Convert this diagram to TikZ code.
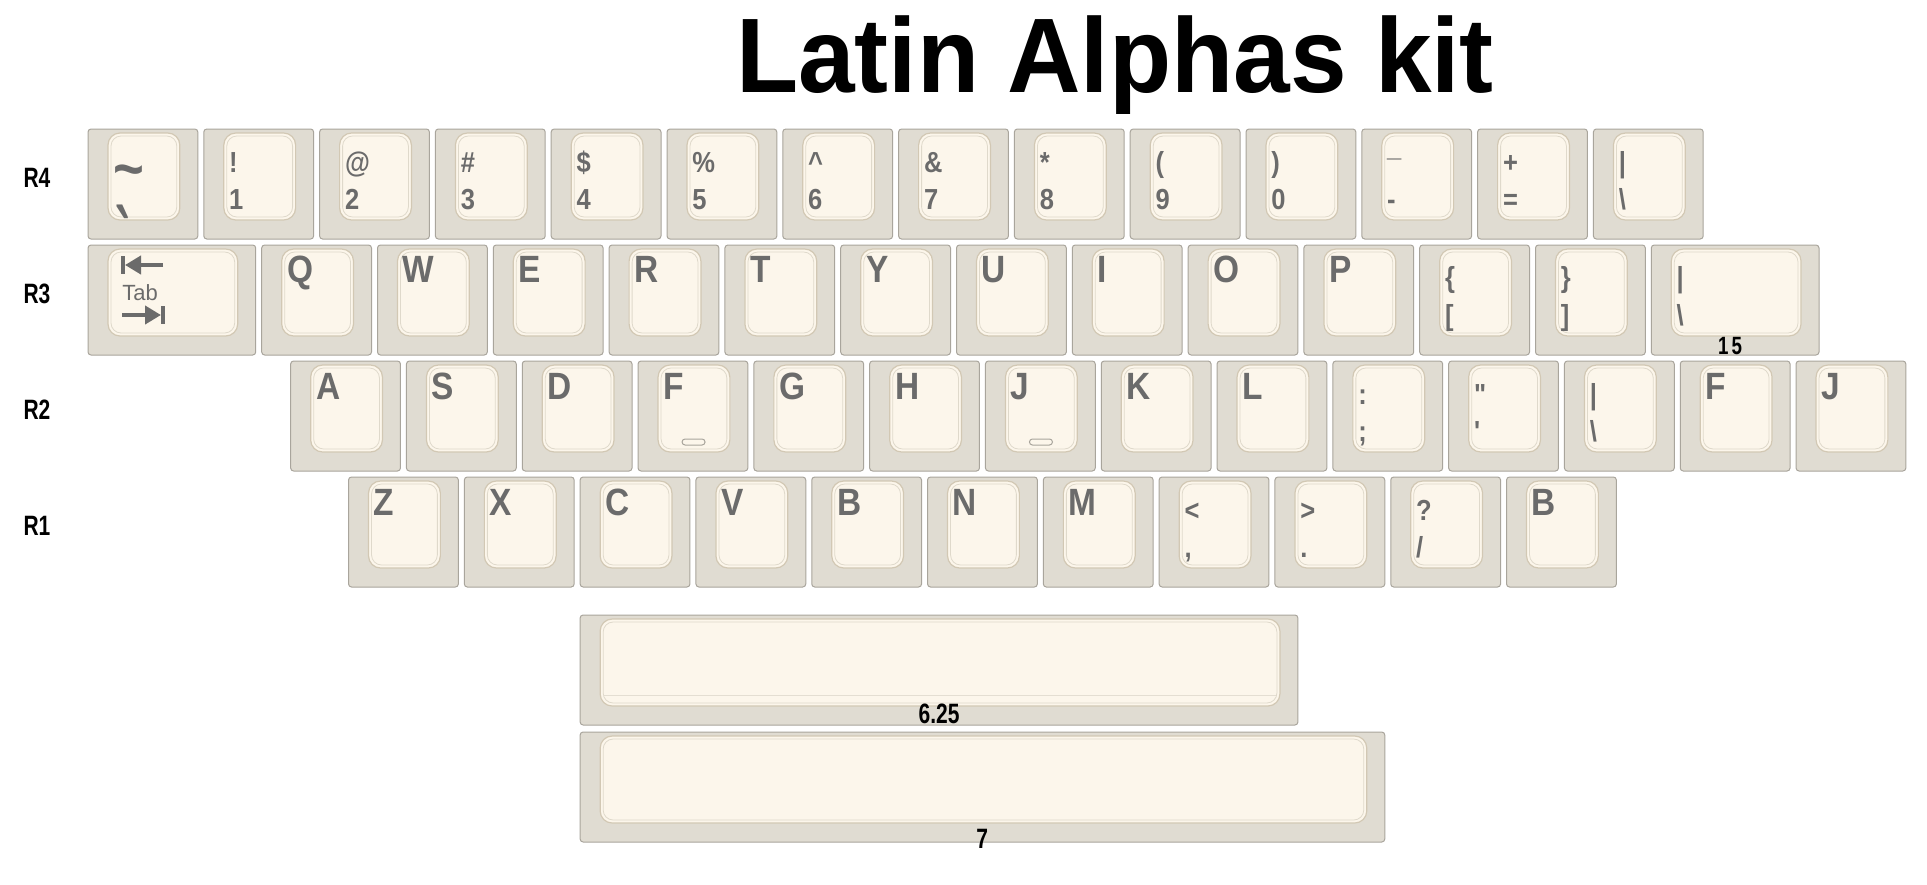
\documentclass[tikz,border=0pt]{standalone}
\usepackage{fontspec}
\setmainfont{Liberation Sans}
\newfontfamily\legendfont[FakeStretch=0.88]{Liberation Sans Bold}
\newfontfamily\narrowfont[FakeStretch=0.75]{Liberation Sans Bold}
\newfontfamily\titlefont[FakeStretch=0.96]{Liberation Sans Bold}
\usetikzlibrary{arrows.meta}

\definecolor{capbody}{HTML}{E0DCD2}
\definecolor{capedge}{HTML}{A9A59C}
\definecolor{captop}{HTML}{FCF6EB}
\definecolor{caprim}{HTML}{D2C8B4}
\definecolor{legendgray}{HTML}{6B6B6B}

\tikzset{
  keybody/.style={fill=capbody,draw=capedge,line width=0.5pt,rounded corners=1.5pt},
  keytop/.style={fill=captop,draw=caprim,line width=0.6pt,rounded corners=6pt},
  keyrim/.style={draw=caprim!70,line width=0.4pt,rounded corners=5pt},
  letter/.style={anchor=base west,inner sep=0pt,text=legendgray,font=\legendfont\fontsize{19}{19}\selectfont},
  sym/.style={anchor=base west,inner sep=0pt,text=legendgray,font=\legendfont\fontsize{14.5}{14.5}\selectfont},
  rowlabel/.style={inner sep=0pt,font=\narrowfont\fontsize{14}{14}\selectfont},
  sizelabel/.style={inner sep=0pt,font=\narrowfont\fontsize{14}{14}\selectfont},
  tabarrow/.style={draw=legendgray,line width=2pt},
  homing/.style={fill=captop,draw=capedge,line width=0.5pt,rounded corners=1.5pt}
}

% one keycap: left, top, width in units
\newcommand\keycap[3]{%
  \pgfmathsetmacro{\kr}{#1+#3*\pitch-\gap}
  \draw[keybody] (#1,#2) rectangle (\kr,#2+110);
  \draw[keytop] (#1+20,#2+4) rectangle (\kr-18,#2+91);
  \draw[keyrim] (#1+23,#2+7) rectangle (\kr-21,#2+88);
}

\begin{document}
\begin{tikzpicture}[x=0.5pt,y=-0.5pt]
    % Layout parameters (px)
    \def\pitch{115.8} % one key unit
    \def\gap{6} % space between two caps
    \def\xo{88} % left edge of the board

    \fill[white] (0,0) rectangle (1927,884);
    \useasboundingbox (0,0) rectangle (1927,884);

    % Title
    \node[anchor=base,inner sep=0pt] (title) at (1115,92) {\titlefont\fontsize{53}{53}\selectfont Latin Alphas kit};

    % Row labels
    \foreach \n/\y in {4/129,3/245,2/361,1/477}
      \node[rowlabel] (row\n) at (37,\y+49) {R\n};

    % R4: number row
    \keycap{\xo}{129}{1}
    \node[sym,font=\legendfont\fontsize{30}{30}\selectfont] (top-0) at (\xo+25,129+60) {\textasciitilde};
    \node[sym,font=\legendfont\fontsize{20}{20}\selectfont] (bot-0) at (\xo+27,129+140) {\scalebox{1.3}[2.2]{\textasciigrave}};
    \foreach \t/\b [count=\i from 1] in {!/1,@/2,\#/3,\$/4,\%/5,\textasciicircum/6,\&/7,*/8,{(}/9,{)}/0,{\raisebox{0.55em}{\_}}/-,+/=,|/\textbackslash}{
      \pgfmathsetmacro{\kx}{\xo+\i*\pitch}
      \keycap{\kx}{129}{1}
      \node[sym] (top-\i) at (\kx+25,129+43) {\t};
      \node[sym] (bot-\i) at (\kx+25,129+80) {\b};
    }

    % R3: tab row
    \keycap{\xo}{245}{1.5}
    \coordinate (tabL) at (\xo+35,265);
    \coordinate (tabR) at (\xo+75,265);
    \draw[tabarrow,-{Triangle[length=8pt,width=9pt]}] (tabR) -- ([xshift=1pt]tabL);
    \draw[tabarrow] ([yshift=4.5pt]tabL) -- ([yshift=-4.5pt]tabL);
    \node[anchor=base west,inner sep=0pt,text=legendgray,font=\fontsize{11}{11}\selectfont] (tab) at (\xo+34,300) {Tab};
    \coordinate (tabL2) at (\xo+34,315);
    \coordinate (tabR2) at (\xo+75,315);
    \draw[tabarrow,-{Triangle[length=8pt,width=9pt]}] (tabL2) -- ([xshift=-1pt]tabR2);
    \draw[tabarrow] ([yshift=4.5pt]tabR2) -- ([yshift=-4.5pt]tabR2);
    \foreach \k [count=\i from 0] in {Q,W,E,R,T,Y,U,I,O,P}{
      \pgfmathsetmacro{\kx}{\xo+(1.5+\i)*\pitch}
      \keycap{\kx}{245}{1}
      \node[letter] (r3-\i) at (\kx+25,245+37) {\k};
    }
    \foreach \t/\b/\i in {\{/[/10,\}/]/11}{
      \pgfmathsetmacro{\kx}{\xo+(1.5+\i)*\pitch}
      \keycap{\kx}{245}{1}
      \node[sym] (r3t-\i) at (\kx+25,245+42) {\t};
      \node[sym] (r3b-\i) at (\kx+25,245+80) {\b};
    }
    \pgfmathsetmacro{\kx}{\xo+13.5*\pitch}
    \keycap{\kx}{245}{1.5}
    \node[sym] (r3t-12) at (\kx+25,245+42) {|};
    \node[sym] (r3b-12) at (\kx+25,245+80) {\textbackslash};
    \node[sizelabel,font=\narrowfont\fontsize{12.5}{12.5}\selectfont] (len15) at (1730,346) {1\kern1.5pt5};

    % R2: home row
    \foreach \k/\i in {A/0,S/1,D/2,F/3,G/4,H/5,J/6,K/7,L/8,F/12,J/13}{
      \pgfmathsetmacro{\kx}{\xo+(1.75+\i)*\pitch}
      \keycap{\kx}{361}{1}
      \node[letter] (r2-\i) at (\kx+25,361+38) {\k};
    }
    \foreach \t/\b/\i in {:/;/9,"/\textquotesingle/10,|/\textbackslash/11}{
      \pgfmathsetmacro{\kx}{\xo+(1.75+\i)*\pitch}
      \keycap{\kx}{361}{1}
      \node[sym] (r2t-\i) at (\kx+25,361+43) {\t};
      \node[sym] (r2b-\i) at (\kx+25,361+80) {\b};
    }
    % homing bars on F and J
    \foreach \i in {3,6}{
      \pgfmathsetmacro{\kx}{\xo+(1.75+\i)*\pitch}
      \draw[homing] (\kx+44,361+78) rectangle (\kx+67,361+84);
    }

    % R1: bottom row
    \foreach \k/\i in {Z/0,X/1,C/2,V/3,B/4,N/5,M/6,B/10}{
      \pgfmathsetmacro{\kx}{\xo+(2.25+\i)*\pitch}
      \keycap{\kx}{477}{1}
      \node[letter] (r1-\i) at (\kx+25,477+38) {\k};
    }
    \foreach \t/\b/\i in {{<}/{,}/7,{>}/{.}/8,{?}/{/}/9}{
      \pgfmathsetmacro{\kx}{\xo+(2.25+\i)*\pitch}
      \keycap{\kx}{477}{1}
      \node[sym] (r1t-\i) at (\kx+25,477+43) {\t};
      \node[sym] (r1b-\i) at (\kx+25,477+80) {\b};
    }

    % Spacebars
    \pgfmathsetmacro{\sx}{\xo+4.25*\pitch}
    \keycap{\sx}{615}{6.25}
    \draw[caprim!60,line width=0.4pt] (\sx+24,615+80) -- (\sx+6.25*\pitch-\gap-22,615+80);
    \node[sizelabel] (len625) at (\sx+359,615+99) {6.25};
    \keycap{\sx}{732}{7}
    \node[sizelabel] (len7) at (\sx+402,732+107) {7};

\end{tikzpicture}
\end{document}
